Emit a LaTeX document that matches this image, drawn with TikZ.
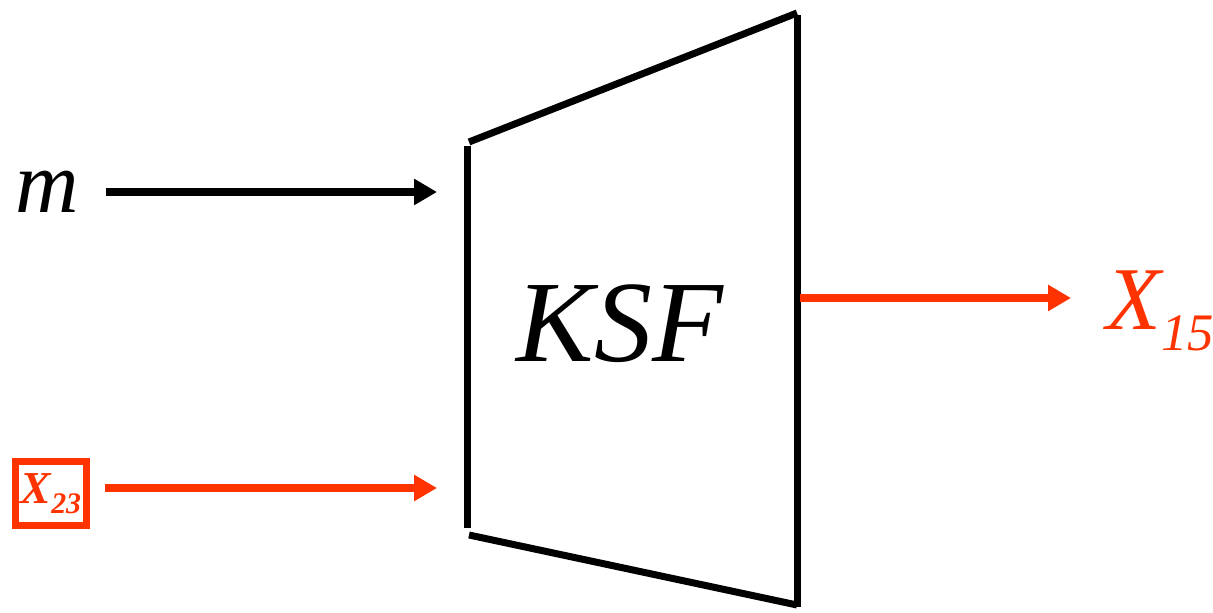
\documentclass[tikz,border=0pt]{standalone}
\usepackage{fontspec}
\setmainfont{Liberation Serif}
\usetikzlibrary{arrows.meta}
\definecolor{ink}{HTML}{000000}
\definecolor{signal}{HTML}{FF3300}

\begin{document}
\begin{tikzpicture}
    \tikzset{
      wall/.style={draw=ink,line width=0.14cm},
      arrow/.style={-{Triangle[length=0.46cm,width=0.5cm]},draw=ink,line width=0.15cm},
      redarrow/.style={arrow,draw=signal,color=signal},
      label/.style={inner sep=0pt}
    }
    \useasboundingbox (0,0) rectangle (24.26,12.24);
    % encoder outline
    \coordinate (tl) at (9.34,9.32);
    \coordinate (bl) at (9.34,1.68);
    \draw[wall] (tl) -- (bl);
    \draw[wall] (9.38,9.40) -- (15.94,11.98);
    \draw[wall] (15.94,11.94) -- (15.94,0.10);
    \draw[wall] (9.38,1.54) -- (15.94,0.14);
    \node[label,font=\itshape\fontsize{66}{66}\selectfont,anchor=base] (ksf) at (12.40,5.0) {KSF};
    % inputs
    \node[label,font=\itshape\fontsize{50}{50}\selectfont] (m) at (0.94,8.40) {m};
    \node[draw=signal,line width=0.14cm,minimum width=1.42cm,minimum height=1.28cm,inner sep=0pt,
          text=signal,font=\bfseries\itshape\fontsize{26}{26}\selectfont] (x23) at (1.02,2.37)
          {X\raisebox{-0.2cm}{\fontsize{17}{17}\selectfont 23}\hspace{0.08cm}};
    \coordinate (mIn) at (8.74,8.40);
    \coordinate (xIn) at (8.74,2.48);
    \draw[arrow,shorten <=0.53cm] (m) -- (mIn);
    \draw[redarrow,shorten <=0.3cm] (x23.east |- xIn) -- (xIn);
    % output
    \node[label,text=signal,font=\itshape\fontsize{51}{51}\selectfont,anchor=base west] (x15) at (22.12,5.64)
          {X\raisebox{-0.42cm}{\fontsize{30}{30}\selectfont 15}};
    \coordinate (kOut) at (16.0,6.28);
    \draw[redarrow,shorten >=0.7cm] (kOut) -- (kOut -| x15.west);
\end{tikzpicture}
\end{document}
